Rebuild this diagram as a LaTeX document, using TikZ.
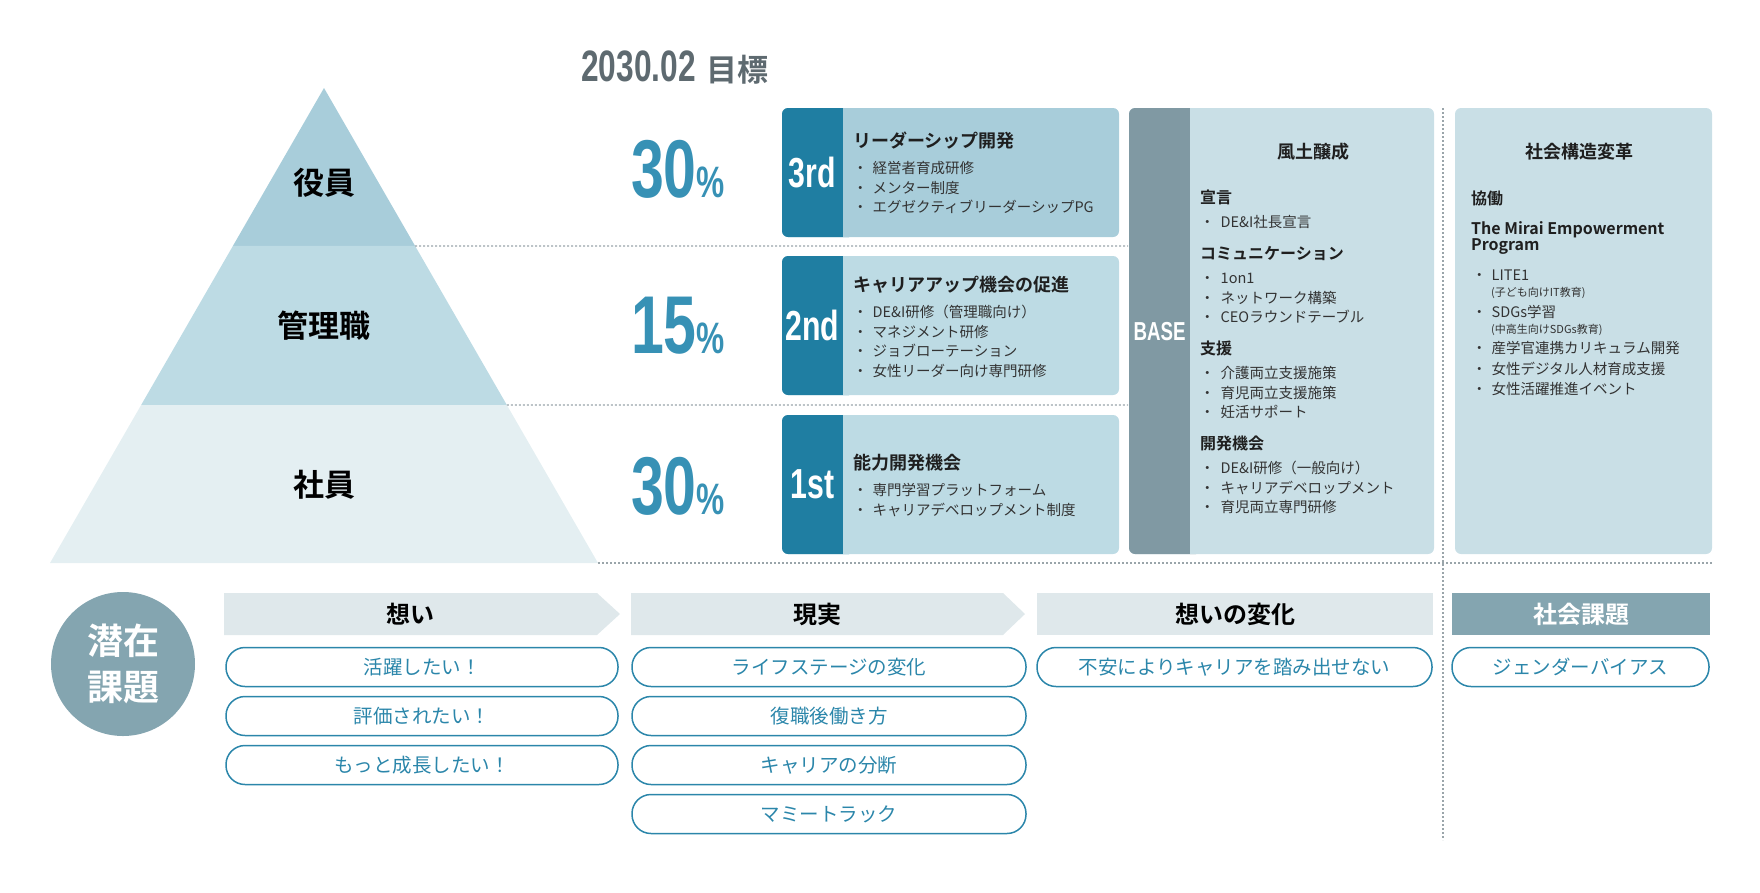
\documentclass[tikz,border=0pt]{standalone}
\usepackage{fontspec}
\setmainfont{Noto Sans CJK JP}[BoldFont={Noto Sans CJK JP Bold}]
\newfontfamily\numfont{Liberation Sans}[FakeStretch=0.72]
\usetikzlibrary{calc}

\definecolor{pyrtop}{HTML}{A8CDDA}
\definecolor{pyrmid}{HTML}{BDDBE4}
\definecolor{pyrlow}{HTML}{E4EFF2}
\definecolor{stepdark}{HTML}{1F7EA2}
\definecolor{basedark}{HTML}{8099A3}
\definecolor{baselight}{HTML}{C9DFE6}
\definecolor{pctblue}{HTML}{3791B5}
\definecolor{hdrgray}{HTML}{DFE8EB}
\definecolor{issuegray}{HTML}{84A5B0}
\definecolor{pillblue}{HTML}{2B86AA}
\definecolor{titlegray}{HTML}{5E6A70}
\definecolor{divgray}{HTML}{9AA5AA}

\tikzset{
  divider/.style={divgray, line width=1.2pt, dash pattern=on 2pt off 2pt},
  lvl/.style={inner sep=0pt, font=\bfseries\fontsize{31}{31}\selectfont, text height=23.5pt, text depth=0pt},
  pct/.style={anchor=base, inner sep=0pt, text=pctblue, font=\numfont\bfseries\fontsize{82}{82}\selectfont},
  steplab/.style={inner sep=0pt, text=white, font=\numfont\bfseries\fontsize{42}{42}\selectfont},
  stephead/.style={anchor=west, inner sep=0pt, text=black!88, font=\bfseries\fontsize{18}{18}\selectfont, text height=13.6pt, text depth=0pt},
  colhead/.style={inner sep=0pt, text=black!88, font=\bfseries\fontsize{18}{18}\selectfont, text height=13.6pt, text depth=0pt},
  subhead/.style={anchor=west, inner sep=0pt, text=black!88, font=\bfseries\fontsize{16}{16}\selectfont, text height=12pt, text depth=0pt},
  item/.style={anchor=west, inner sep=0pt, text=black!80, font=\fontsize{14.5}{14.5}\selectfont, text height=11pt, text depth=0pt},
  note/.style={anchor=west, inner sep=0pt, text=black!80, font=\fontsize{11}{11}\selectfont, text height=8.4pt, text depth=0pt},
  hdr/.style={inner sep=0pt, font=\bfseries\fontsize{24}{24}\selectfont, text height=18pt, text depth=0pt},
  hdrbox/.style={hdr, fill=hdrgray, minimum height=42pt},
  pill/.style={draw=pillblue, line width=1.5pt, rounded corners=19pt, minimum height=39pt, inner sep=0pt,
    text=pillblue, font=\fontsize{19.5}{19.5}\selectfont, text height=14.8pt, text depth=0pt}
}

\begin{document}
\begin{tikzpicture}[x=1pt, y=-1pt]
\useasboundingbox (0,0) rectangle (1760,892);

% pyramid
\coordinate (apex) at (324,88);
\coordinate (bl) at (50,563);
\coordinate (br) at (598,563);
\coordinate (l1) at ($(apex)!0.3326!(bl)$);
\coordinate (r1) at ($(apex)!0.3326!(br)$);
\coordinate (l2) at ($(apex)!0.6674!(bl)$);
\coordinate (r2) at ($(apex)!0.6674!(br)$);
\fill[pyrtop] (apex) -- (r1) -- (l1) -- cycle;
\fill[pyrmid] (l1) -- (r1) -- (r2) -- (l2) -- cycle;
\fill[pyrlow] (l2) -- (r2) -- (br) -- (bl) -- cycle;

\node[lvl] (yakuin) at (324,183) {役員};
\node[lvl] (kanri) at (324,326) {管理職};
\node[lvl] (shain) at (324,485) {社員};

% dividers
\coordinate (e1) at (1128,246);
\coordinate (e2) at (1128,405);
\coordinate (e3) at (1712,563);
\coordinate (vtop) at (1443,108);
\coordinate (vbot) at (1443,840);
\draw[divider] (r1) -- (e1);
\draw[divider] (r2) -- (e2);
\draw[divider] (br) -- (e3);
\draw[divider] (vtop) -- (vbot);

\node[anchor=base west, inner sep=0pt, text=titlegray] (goal) at (581,81)
  {{\numfont\bfseries\fontsize{44}{44}\selectfont 2030.02}\hspace{11pt}{\bfseries\fontsize{31}{31}\selectfont 目標}};

\node[pct] (pct3) at (678,197) {30{\fontsize{44}{44}\selectfont\%}};
\node[pct] (pct2) at (678,353) {15{\fontsize{44}{44}\selectfont\%}};
\node[pct] (pct1) at (678,514) {30{\fontsize{44}{44}\selectfont\%}};

% step boxes
\foreach \ya/\yb/\fillc/\lab/\nm in {108/237/pyrtop/3rd/third, 256/395/pyrmid/2nd/second, 415/554/pyrmid/1st/first} {
  \fill[\fillc, rounded corners=6pt] (782,\ya) rectangle (1119,\yb);
  \fill[stepdark, rounded corners=6pt] (782,\ya) rectangle (855,\yb);
  \fill[\fillc] (843,\ya) rectangle (858,\yb);
  \node[steplab] (lab-\nm) at (812.5,{(\ya+\yb)/2}) {\lab};
}

\node[stephead] (head-third) at (853,141) {リーダーシップ開発};
\foreach \t [count=\i from 0] in {経営者育成研修, メンター制度, エグゼクティブリーダーシップPG}
  \node[item] (third-\i) at (853,{168+19.5*\i}) {・\hspace{5pt}\t};

\node[stephead] (head-second) at (853,285) {キャリアアップ機会の促進};
\foreach \t [count=\i from 0] in {DE\&I研修（管理職向け）, マネジメント研修, ジョブローテーション, 女性リーダー向け専門研修}
  \node[item] (second-\i) at (853,{312+19.5*\i}) {・\hspace{5pt}\t};

\node[stephead] (head-first) at (853,463) {能力開発機会};
\foreach \t [count=\i from 0] in {専門学習プラットフォーム, キャリアデベロップメント制度}
  \node[item] (first-\i) at (853,{490+19.5*\i}) {・\hspace{5pt}\t};

% base box
\fill[baselight, rounded corners=6pt] (1129,108) rectangle (1434,554);
\fill[basedark, rounded corners=6pt] (1129,108) rectangle (1202,554);
\fill[baselight] (1190,108) rectangle (1205,554);
\node[inner sep=0pt, text=white, font=\numfont\bfseries\fontsize{26}{26}\selectfont] (base) at (1159.5,332) {BASE};

\node[colhead] (fudo) at (1313,152) {風土醸成};
\node[subhead] (decl) at (1200,197) {宣言};
\node[item] (decl-0) at (1200,222) {・\hspace{6pt}DE\&I社長宣言};
\node[subhead] (comm) at (1200,253) {コミュニケーション};
\foreach \t [count=\i from 0] in {1on1, ネットワーク構築, CEOラウンドテーブル}
  \node[item] (comm-\i) at (1200,{278+19.5*\i}) {・\hspace{6pt}\t};
\node[subhead] (supp) at (1200,348) {支援};
\foreach \t [count=\i from 0] in {介護両立支援施策, 育児両立支援施策, 妊活サポート}
  \node[item] (supp-\i) at (1200,{373+19.5*\i}) {・\hspace{6pt}\t};
\node[subhead] (dev) at (1200,443) {開発機会};
\foreach \t [count=\i from 0] in {DE\&I研修（一般向け）, キャリアデベロップメント, 育児両立専門研修}
  \node[item] (dev-\i) at (1200,{468+19.5*\i}) {・\hspace{6pt}\t};

% social box
\fill[baselight, rounded corners=6pt] (1455,108) rectangle (1712,554);
\node[colhead] (social) at (1579,152) {社会構造変革};
\node[subhead] (collab) at (1471,198) {協働};
\node[subhead] (mirai) at (1471,228) {The Mirai Empowerment};
\node[subhead] (prog) at (1471,244) {Program};
\node[item] (lite) at (1472,275) {・\hspace{5pt}LITE1};
\node[note] (lite-n) at (1491,292) {(子ども向けIT教育)};
\node[item] (sdgs) at (1472,312) {・\hspace{5pt}SDGs学習};
\node[note] (sdgs-n) at (1491,329) {(中高生向けSDGs教育)};
\foreach \t [count=\i from 0] in {産学官連携カリキュラム開発, 女性デジタル人材育成支援, 女性活躍推進イベント}
  \node[item] (soc-\i) at (1472,{348+20.5*\i}) {・\hspace{5pt}\t};

% latent issues
\node[circle, fill=issuegray, minimum size=144pt, inner sep=0pt, text=white, align=center,
  font=\bfseries\fontsize{36}{46}\selectfont] (issue) at (123,664) {潜在\\課題};

\fill[hdrgray] (224,593) -- (597,593) -- (620,614) -- (597,635) -- (224,635) -- cycle;
\fill[hdrgray] (631,593) -- (1003,593) -- (1025,614) -- (1003,635) -- (631,635) -- cycle;
\node[hdr] (h-want) at (410.5,614) {想い};
\node[hdr] (h-real) at (817,614) {現実};
\node[hdrbox, minimum width=396pt] (h-change) at (1235,614) {想いの変化};
\node[hdrbox, fill=issuegray, text=white, minimum width=258pt] (h-social) at (1581,614) {社会課題};

\foreach \t [count=\i] in {活躍したい！, 評価されたい！, もっと成長したい！}
  \node[pill, minimum width=392pt] (want-\i) at (422,{618+49*\i}) {\t};
\foreach \t [count=\i] in {ライフステージの変化, 復職後働き方, キャリアの分断, マミートラック}
  \node[pill, minimum width=394pt] (real-\i) at (829,{618+49*\i}) {\t};
\node[pill, minimum width=395pt] (change-1) at (1234.5,667) {不安によりキャリアを踏み出せない};
\node[pill, minimum width=257pt] (social-1) at (1580.5,667) {ジェンダーバイアス};

\end{tikzpicture}
\end{document}
